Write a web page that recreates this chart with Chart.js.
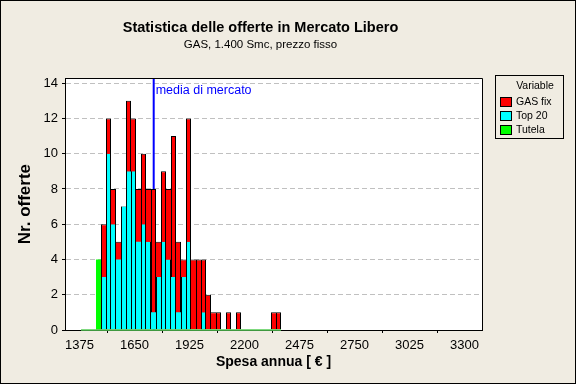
<!DOCTYPE html>
<html>
<head>
<meta charset="utf-8">
<script src="https://cdn.jsdelivr.net/npm/chart.js@4.4.1/dist/chart.umd.min.js"></script>
<style>
  html, body { margin: 0; padding: 0; background: #f0ece2; }
  #chart { display: block; }
</style>
</head>
<body>
<canvas id="chart" width="576" height="384"></canvas>
<script>
// Istogramma offerte gas – mercato libero

// centri delle classi (€), ampiezza 25 €
const binCenters = [
  1395, 1420, 1445, 1470, 1495, 1520, 1545, 1570, 1595, 1620,
  1645, 1670, 1695, 1720, 1745, 1770, 1795, 1820, 1845, 1870,
  1895, 1920, 1945, 1970, 1995, 2020, 2045, 2070, 2095, 2120,
  2145, 2170, 2195, 2220, 2245, 2270, 2295, 2320, 2345, 2370
];
const binWidth = 25;

const gasFix = [
  0, 0, 0, 1, 6, 12, 8, 5, 7, 13,
  12, 8, 10, 8, 8, 5, 9, 8, 11, 5,
  4, 12, 4, 4, 4, 2, 1, 1, 0, 1,
  0, 1, 0, 0, 0, 0, 0, 0, 1, 1
];
const top20 = [
  0, 0, 0, 0, 3, 10, 6, 4, 7, 9,
  9, 5, 6, 5, 1, 3, 5, 4, 3, 1,
  3, 5, 0, 0, 1, 0, 0, 0, 0, 0,
  0, 0, 0, 0, 0, 0, 0, 0, 0, 0
];
const tutela = [
  0, 0, 0, 4, 0, 0, 0, 0, 0, 0,
  0, 0, 0, 0, 0, 0, 0, 0, 0, 0,
  0, 0, 0, 0, 0, 0, 0, 0, 0, 0,
  0, 0, 0, 0, 0, 0, 0, 0, 0, 0
];

const xTicks = [1375, 1650, 1925, 2200, 2475, 2750, 3025, 3300];
const yTicks = [0, 2, 4, 6, 8, 10, 12, 14];
const marketMean = 1746;
// 5 € per pixel sull'area di 417 px: i bordi delle classi cadono su pixel interi
const xMin = 1302.5, xMax = 3387.5;
const yMax = 14.28;

const FONT = '"Liberation Sans", Arial, sans-serif';
Chart.defaults.font.family = FONT;
Chart.defaults.color = '#000';

const legendItems = [
  { label: 'GAS fix', color: '#ff0000' },
  { label: 'Top 20', color: '#00ffff' },
  { label: 'Tutela', color: '#00ff00' }
];

function toPoints(values) {
  return values.map((v, i) => ({ x: binCenters[i], y: v }));
}

// bordo nero solo sul lato della barra più alta, così le linee restano da 1px
function edgeBorders(values, top) {
  return ctx => {
    const i = ctx.dataIndex;
    const v = values[i];
    const prev = i > 0 ? values[i - 1] : 0;
    const next = i < values.length - 1 ? values[i + 1] : 0;
    return { left: prev <= v ? 1 : 0, right: next < v ? 1 : 0, top: top, bottom: 0 };
  };
}

const framePlugin = {
  id: 'frame',
  beforeDraw(chart) {
    const { ctx, chartArea: a } = chart;
    ctx.save();
    ctx.fillStyle = '#f0ece2';
    ctx.fillRect(0, 0, chart.width, chart.height);
    ctx.fillStyle = '#ffffff';
    ctx.fillRect(a.left, a.top, a.right - a.left, a.bottom - a.top);
    ctx.restore();
  },
  afterDatasetsDraw(chart) {
    const { ctx, chartArea: a, scales: { x } } = chart;
    const px = x.getPixelForValue(marketMean);
    ctx.save();
    ctx.font = '12.5px ' + FONT;
    ctx.fillStyle = '#0000ff';
    ctx.textBaseline = 'middle';
    ctx.fillText('media di mercato', px + 2, a.top + 12);
    ctx.restore();
  },
  afterDraw(chart) {
    const { ctx, chartArea: a } = chart;
    ctx.save();
    ctx.strokeStyle = '#000';
    ctx.lineWidth = 1;
    ctx.beginPath();
    ctx.moveTo(a.left, Math.round(a.top) + 0.5);
    ctx.lineTo(a.right + 0.5, Math.round(a.top) + 0.5);
    ctx.lineTo(a.right + 0.5, a.bottom);
    ctx.stroke();
    ctx.strokeRect(0.5, 0.5, chart.width - 1, chart.height - 1);

    // legenda
    ctx.strokeRect(495.5, 75.5, 68, 63);
    ctx.font = '10.5px ' + FONT;
    ctx.fillStyle = '#000';
    ctx.textBaseline = 'middle';
    ctx.textAlign = 'center';
    ctx.fillText('Variable', 535, 86);
    ctx.textAlign = 'left';
    legendItems.forEach((item, i) => {
      const y = 102 + i * 14;
      ctx.fillStyle = item.color;
      ctx.fillRect(500.5, y - 4.5, 11, 9);
      ctx.strokeRect(500.5, y - 4.5, 11, 9);
      ctx.fillStyle = '#000';
      ctx.fillText(item.label, 516, y);
    });
    ctx.restore();
  }
};

new Chart(document.getElementById('chart'), {
  type: 'bar',
  data: {
    datasets: [
      {
        type: 'line',
        label: 'media',
        data: [{ x: marketMean, y: 0 }, { x: marketMean, y: yMax }],
        borderColor: '#0000ff',
        borderWidth: 2,
        pointRadius: 0,
        order: 10
      },
      {
        label: 'GAS fix',
        data: toPoints(gasFix),
        backgroundColor: '#ff0000',
        borderColor: '#000',
        borderWidth: edgeBorders(gasFix, 1),
        borderSkipped: false,
        grouped: false,
        inflateAmount: 0,
        barPercentage: 1,
        categoryPercentage: 1,
        order: 4
      },
      {
        label: 'Top 20',
        data: toPoints(top20),
        backgroundColor: '#00ffff',
        borderColor: '#000',
        borderWidth: edgeBorders(top20, 0),
        borderSkipped: false,
        grouped: false,
        inflateAmount: 0,
        barPercentage: 1,
        categoryPercentage: 1,
        order: 3
      },
      {
        label: 'Tutela',
        data: toPoints(tutela),
        backgroundColor: '#00ff00',
        borderWidth: 0,
        grouped: false,
        inflateAmount: 0,
        barPercentage: 1,
        categoryPercentage: 1,
        order: 2
      },
      {
        type: 'line',
        label: 'base',
        data: [
          { x: binCenters[0] - binWidth / 2, y: 0 },
          { x: binCenters[binCenters.length - 1] + binWidth / 2, y: 0 }
        ],
        borderColor: '#55cc55',
        borderWidth: 1.5,
        pointRadius: 0,
        clip: false,
        order: 1
      }
    ]
  },
  options: {
    responsive: false,
    animation: false,
    devicePixelRatio: 1,
    layout: { padding: { left: 39, right: 94, top: 0, bottom: 0 } },
    plugins: {
      legend: { display: false },
      tooltip: { enabled: false },
      title: {
        display: true,
        text: 'Statistica delle offerte in Mercato Libero',
        color: '#000',
        font: { size: 14.5, weight: 'bold' },
        padding: { top: 19, bottom: 0 }
      },
      subtitle: {
        display: true,
        text: 'GAS, 1.400 Smc, prezzo fisso',
        color: '#000',
        font: { size: 11.5 },
        padding: { top: 2, bottom: 26 }
      }
    },
    scales: {
      x: {
        type: 'linear',
        offset: false,
        min: xMin,
        max: xMax,
        afterBuildTicks: s => { s.ticks = xTicks.map(v => ({ value: v })); },
        afterFit: s => { s.height = 54; },
        grid: { drawOnChartArea: false, tickLength: 3, tickColor: '#000' },
        border: { color: '#000', width: 1 },
        ticks: { color: '#000', font: { size: 13 }, padding: 5, maxRotation: 0, autoSkip: false, callback: v => String(v) },
        title: {
          display: true,
          text: 'Spesa annua [ € ]',
          color: '#000',
          font: { size: 14, weight: 'bold' },
          padding: { top: 0, bottom: 13 }
        }
      },
      y: {
        min: 0,
        max: yMax,
        afterBuildTicks: s => { s.ticks = yTicks.map(v => ({ value: v })); },
        afterFit: s => { s.width = 26; },
        grid: {
          color: ctx => (ctx.tick && ctx.tick.value === 0) ? 'rgba(0,0,0,0)' : '#c0c0c0',
          tickLength: 3,
          tickColor: '#000'
        },
        border: { color: '#000', width: 1, dash: [5, 3] },
        ticks: { color: '#000', font: { size: 13 }, padding: 4, callback: v => String(v) },
        title: {
          display: true,
          text: 'Nr. offerte',
          color: '#000',
          font: { size: 17, weight: 'bold' },
          padding: { top: -24, bottom: 0 }
        }
      }
    }
  },
  plugins: [framePlugin]
});
</script>
</body>
</html>
